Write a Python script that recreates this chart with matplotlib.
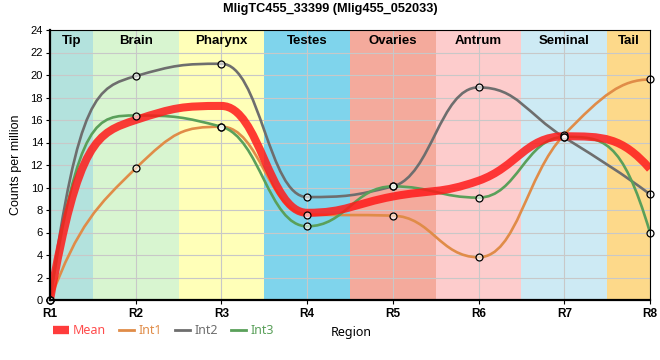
import numpy as np
import matplotlib
matplotlib.use("Agg")
import matplotlib.pyplot as plt
from matplotlib.path import Path
from matplotlib.patches import PathPatch
from matplotlib.lines import Line2D

plt.rcParams['font.family'] = ['Liberation Sans', 'DejaVu Sans']

# data
regions = ['R1', 'R2', 'R3', 'R4', 'R5', 'R6', 'R7', 'R8']
mean_vals = [0, 16.0, 17.25, 7.75, 9.2, 10.6, 14.55, 11.65]
int1_vals = [0, 11.7, 15.4, 7.6, 7.5, 3.8, 14.7, 19.6]
int2_vals = [0, 19.9, 21.0, 9.15, 10.1, 18.9, 14.45, 9.4]
int3_vals = [0, 16.4, 15.4, 6.55, 10.1, 9.1, 14.5, 6.0]

band_names = ['Tip', 'Brain', 'Pharynx', 'Testes', 'Ovaries', 'Antrum', 'Seminal', 'Tail']
band_edges = [1, 1.5, 2.5, 3.5, 4.5, 5.5, 6.5, 7.5, 8]
band_colors = ['#b3e2dd', '#d8f5d0', '#ffffb8', '#7fd4ec',
               '#f4aa9c', '#fdcccc', '#cdeaf4', '#fdd98a']

series = [('Int1', int1_vals, '#e08c48'),
          ('Int2', int2_vals, '#6e6e6e'),
          ('Int3', int3_vals, '#5aa05a')]
mean_color = '#ff1a1a'


def smooth_path(x, y, h=0.45, h_end=1 / 3):
    """Bezier path through the points, monotone style tangents"""
    x = np.asarray(x, float)
    y = np.asarray(y, float)
    s = np.diff(y)
    n = len(y)
    m = np.zeros(n)
    for i in range(1, n - 1):
        if s[i - 1] * s[i] > 0:
            m[i] = np.sign(s[i]) * min(2 * abs(s[i - 1]), 2 * abs(s[i]),
                                       abs(s[i - 1] + s[i]) / 2)
    # end tangents
    for i, j, sl in [(0, 1, s[0]), (n - 1, n - 2, s[-1])]:
        t = 3 * sl - 2 * m[j]
        if t * sl <= 0:
            t = 0
        m[i] = t
    hh = np.full(n, h)
    hh[0] = hh[-1] = h_end
    verts = [(x[0], y[0])]
    codes = [Path.MOVETO]
    for i in range(n - 1):
        lo, hi = min(y[i], y[i + 1]), max(y[i], y[i + 1])
        dx = x[i + 1] - x[i]
        c1 = np.clip(y[i] + hh[i] * m[i], lo, hi)
        c2 = np.clip(y[i + 1] - hh[i + 1] * m[i + 1], lo, hi)
        verts += [(x[i] + hh[i] * dx, c1), (x[i + 1] - hh[i + 1] * dx, c2), (x[i + 1], y[i + 1])]
        codes += [Path.CURVE4] * 3
    return Path(verts, codes)


fig = plt.figure(figsize=(6.6, 3.6), dpi=100)
ax = fig.add_axes([50 / 660, 60 / 360, 600 / 660, 270 / 360])

xs = np.arange(1, len(regions) + 1)

for k, name in enumerate(band_names):
    ax.axvspan(band_edges[k], band_edges[k + 1], color=band_colors[k], lw=0, zorder=0)
    ax.text((band_edges[k] + band_edges[k + 1]) / 2, 23.05, name, ha='center', va='center',
            fontsize=9.5, fontweight='bold', zorder=6)

for name, vals, col in series:
    ax.add_patch(PathPatch(smooth_path(xs, vals), fill=False, edgecolor=col, lw=1.9,
                           zorder=3, capstyle='round'))
ax.add_patch(PathPatch(smooth_path(xs, mean_vals), fill=False, edgecolor=mean_color,
                       lw=5.8, alpha=0.85, zorder=4))
for name, vals, col in series:
    ax.plot(xs, vals, ls='none', marker='o', ms=5, mfc=(1, 1, 1, 0.6), mec='black',
            mew=0.9, zorder=5, clip_on=False)

ax.set_xlim(1, 8)
ax.set_ylim(0, 24)
ax.set_xticks(xs)
ax.set_xticklabels(regions, fontsize=8.5, fontweight='bold')
ax.set_yticks(np.arange(0, 25, 2))
ax.tick_params(axis='y', labelsize=8, length=3, pad=2)
ax.tick_params(axis='x', length=3, pad=3)
ax.grid(True, color='#c8c8c8', lw=0.8, zorder=1)
ax.set_axisbelow(False)
for gl in ax.get_xgridlines() + ax.get_ygridlines():
    gl.set_zorder(1)

for side in ['left', 'bottom']:
    ax.spines[side].set_linewidth(1.6)
for side in ['top', 'right']:
    ax.spines[side].set_linewidth(0.8)
for sp in ax.spines.values():
    sp.set_zorder(7)

ax.set_ylabel('Counts per million', fontsize=9, labelpad=6)
ax.set_xlabel('Region', fontsize=9, family=['Noto Sans', 'DejaVu Sans'])
ax.xaxis.set_label_coords(0.502, -0.098)

fig.text(0.5, 0.993, 'MligTC455_33399 (Mlig455_052033)', ha='center', va='top',
         fontsize=9.2, fontweight='bold')

handles = [Line2D([], [], color=mean_color, lw=6, alpha=0.85, solid_capstyle='butt')]
handles += [Line2D([], [], color=col, lw=2) for _, _, col in series]
labels = ['Mean'] + [name for name, _, _ in series]
leg = fig.legend(handles, labels, loc='center left', bbox_to_anchor=(53 / 660, 29 / 360),
                 ncol=4, frameon=False, handlelength=1.25, handletextpad=0.35,
                 columnspacing=1.0, borderpad=0, borderaxespad=0,
                 prop={'family': ['Noto Sans', 'DejaVu Sans'], 'size': 9})
for txt, col in zip(leg.get_texts(), ['#ff4d4d'] + [c for _, _, c in series]):
    txt.set_color(col)

fig.savefig('out.png', dpi=100)
